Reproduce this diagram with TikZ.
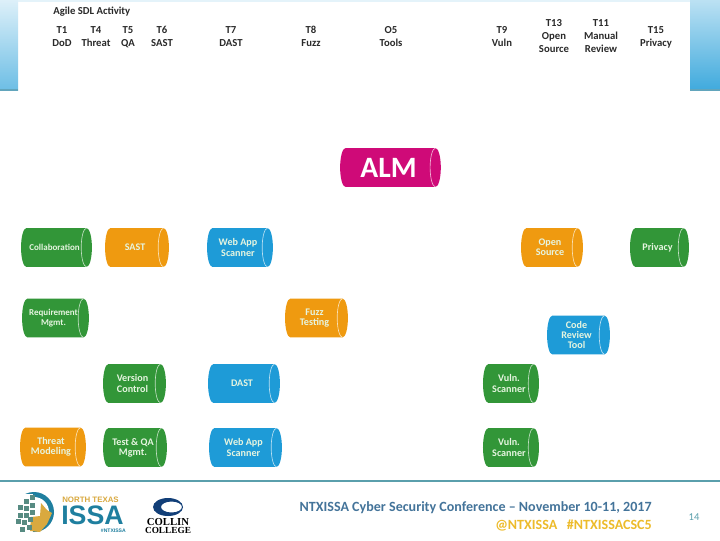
\documentclass[tikz,border=0pt]{standalone}
\usepackage{fontspec}
\setmainfont{Carlito}
\newfontfamily\logofont{Liberation Sans}
\newfontfamily\collinfont{Liberation Serif}
\definecolor{almpink}{HTML}{CF0A78}
\definecolor{toolgreen}{HTML}{329638}
\definecolor{toolorange}{HTML}{EF9A10}
\definecolor{toolblue}{HTML}{1E9BD7}
\definecolor{paletxt}{HTML}{E6F5E0}
\definecolor{headink}{HTML}{2A2A2A}
\definecolor{rule}{HTML}{5A9FAC}
\definecolor{footblue}{HTML}{44749A}
\definecolor{footgold}{HTML}{EDBB2A}
\definecolor{issateal}{HTML}{1F7F9F}
\definecolor{issagold}{HTML}{D9A93F}
\definecolor{collinblue}{HTML}{123F78}
\tikzset{
  can/.style={rectangle,inner sep=0pt,minimum height=27.6pt,
    font=\fontsize{7.2}{7.3}\selectfont\bfseries,text=paletxt,align=center,
    path picture={
      \fill[#1] ([xshift=6.6pt]path picture bounding box.north west) -- ([xshift=-3.8pt]path picture bounding box.north east)
        arc[start angle=90,end angle=-90,x radius=3.8pt,y radius=13.8pt]
        -- ([xshift=6.6pt]path picture bounding box.south west)
        arc[start angle=270,end angle=90,x radius=3.8pt,y radius=13.8pt] -- cycle;
      \draw[white!70!#1,line width=0.45pt] ([xshift=-3.8pt]path picture bounding box.north east)
        arc[start angle=90,end angle=270,x radius=3.8pt,y radius=13.8pt];
    }},
  tightcan/.style={font=\fontsize{6.4}{7.3}\selectfont\bfseries},
  head/.style={font=\fontsize{7.6}{9.2}\selectfont\bfseries,text=headink,align=center,anchor=north,inner sep=0pt},
}
\begin{document}
\begin{tikzpicture}[x=0.025cm,y=-0.025cm]
        \useasboundingbox (0,0) rectangle (720,540);
        \fill[white] (0,0) rectangle (720,540);
        \shade[top color=white!85!toolblue,bottom color=toolblue!65] (0,0) rectangle (18,90);
        \shade[top color=white!70!toolblue,bottom color=toolblue!85] (690,0) rectangle (720,90);
        \fill[white!88!toolblue] (18,0) rectangle (690,2);
        \fill[issateal!70] (0,89) rectangle (18,90.5);
        \fill[issateal!70] (690,89) rectangle (720,90.5);
        \node[head,anchor=west] (agile) at (53,12) {Agile SDL Activity};
        \node[head] (tone) at (62,26) {T1\\DoD};
        \node[head] (tfour) at (96,26) {T4\\Threat};
        \node[head] (tfive) at (128,26) {T5\\QA};
        \node[head] (tsix) at (162,26) {T6\\SAST};
        \node[head] (tseven) at (231,26) {T7\\DAST};
        \node[head] (teight) at (311,26) {T8\\Fuzz};
        \node[head] (ofive) at (391,26) {O5\\Tools};
        \node[head] (tnine) at (502,26) {T9\\Vuln};
        \node[head] (tthirteen) at (554,19) {T13\\Open\\Source};
        \node[head] (televen) at (601,19) {T11\\Manual\\Review};
        \node[head] (tfifteen) at (656,26) {T15\\Privacy};
        \node[can=almpink,minimum width=74.4pt,font=\fontsize{21}{22}\selectfont\bfseries,text=white] (alm) at (388.5,167.5) {ALM};
        \node[can=toolgreen,tightcan,minimum width=53.2pt] (collab) at (54.5,247.5) {Collaboration};
        \node[can=toolorange,minimum width=48.2pt] (sast) at (135,247.5) {SAST};
        \node[can=toolblue,minimum width=49.6pt] (webtop) at (238,247.5) {Web App\\Scanner};
        \node[can=toolorange,minimum width=46.8pt] (opensrc) at (550,247.5) {Open\\Source};
        \node[can=toolgreen,minimum width=44.7pt] (privacy) at (657.5,247.5) {Privacy};
        \node[can=toolgreen,tightcan,minimum width=50.3pt] (reqmgmt) at (53.5,318) {Requirement\\Mgmt.};
        \node[can=toolorange,minimum width=47.5pt] (fuzz) at (314.5,318) {Fuzz\\Testing};
        \node[can=toolblue,minimum width=47.5pt] (codereview) at (576.5,335) {Code\\Review\\Tool};
        \node[can=toolgreen,minimum width=47.5pt] (version) at (132.5,383.5) {Version\\Control};
        \node[can=toolblue,minimum width=53.9pt] (dast) at (242,383.5) {DAST};
        \node[can=toolgreen,minimum width=42.6pt] (vulnup) at (509,383.5) {Vuln.\\Scanner};
        \node[can=toolorange,minimum width=49.6pt] (threat) at (51,447) {Threat\\Modeling};
        \node[can=toolgreen,minimum width=48.2pt] (testqa) at (133,447.5) {Test \& QA\\Mgmt.};
        \node[can=toolblue,minimum width=54.6pt] (webbot) at (243.5,447.5) {Web App\\Scanner};
        \node[can=toolgreen,minimum width=42.6pt] (vulnlow) at (509,447.5) {Vuln.\\Scanner};
        \fill[rule] (0,479.5) rectangle (720,481.5);
        \fill[issateal] (34,512) circle (20);
        \fill[white] (34,512) circle (15);
        \fill[white] (14,494) rectangle (33,534);
        \fill[issagold] (30,531) -- (31,517) -- (40,516) -- (41,503) -- (47,510) -- (52,513) -- (47,524) -- (40,532) -- cycle;
        \foreach \sx/\sy in {18/505,24/499,30/495,24/506,30/503,18/513,24/513,30/510,16/519,22/520,28/517,20/527,27/525}
          \fill[issateal!70!issagold] (\sx,\sy) rectangle +(4.5,4.5);
        \node[font=\fontsize{5.6}{5.6}\selectfont\logofont\bfseries,text=issagold,anchor=west,inner sep=0pt] (north) at (62,500) {NORTH TEXAS};
        \node[font=\fontsize{19}{19}\selectfont\logofont\bfseries,text=issateal,anchor=west,inner sep=0pt] (issa) at (61,515.5) {ISSA};
        \node[font=\fontsize{3.6}{3.6}\selectfont\logofont\bfseries,text=issateal,anchor=east,inner sep=0pt] (hash) at (126,530.5) {\#NTXISSA};
        \fill[collinblue,even odd rule] (168,507) ellipse (15 and 9) (171.5,507) ellipse (10.5 and 5.5);
        \node[font=\fontsize{7.6}{7.6}\selectfont\collinfont\bfseries,text=black,inner sep=0pt] (collin) at (168,522) {COLLIN};
        \node[font=\fontsize{6.6}{6.6}\selectfont\collinfont\bfseries,text=black,inner sep=0pt] (college) at (168,530.5) {COLLEGE};
        \node[font=\fontsize{10}{12}\selectfont\bfseries,text=footblue,anchor=east,inner sep=0pt] (conf) at (652,507.5) {NTXISSA Cyber Security Conference – November 10-11, 2017};
        \node[font=\fontsize{10}{12}\selectfont\bfseries,text=footgold,anchor=east,inner sep=0pt] (tags) at (652,525) {@NTXISSA \ \ \#NTXISSACSC5};
        \node[font=\fontsize{7.5}{9}\selectfont,text=rule,inner sep=0pt] (page) at (694,517) {14};
      \end{tikzpicture}
\end{document}
